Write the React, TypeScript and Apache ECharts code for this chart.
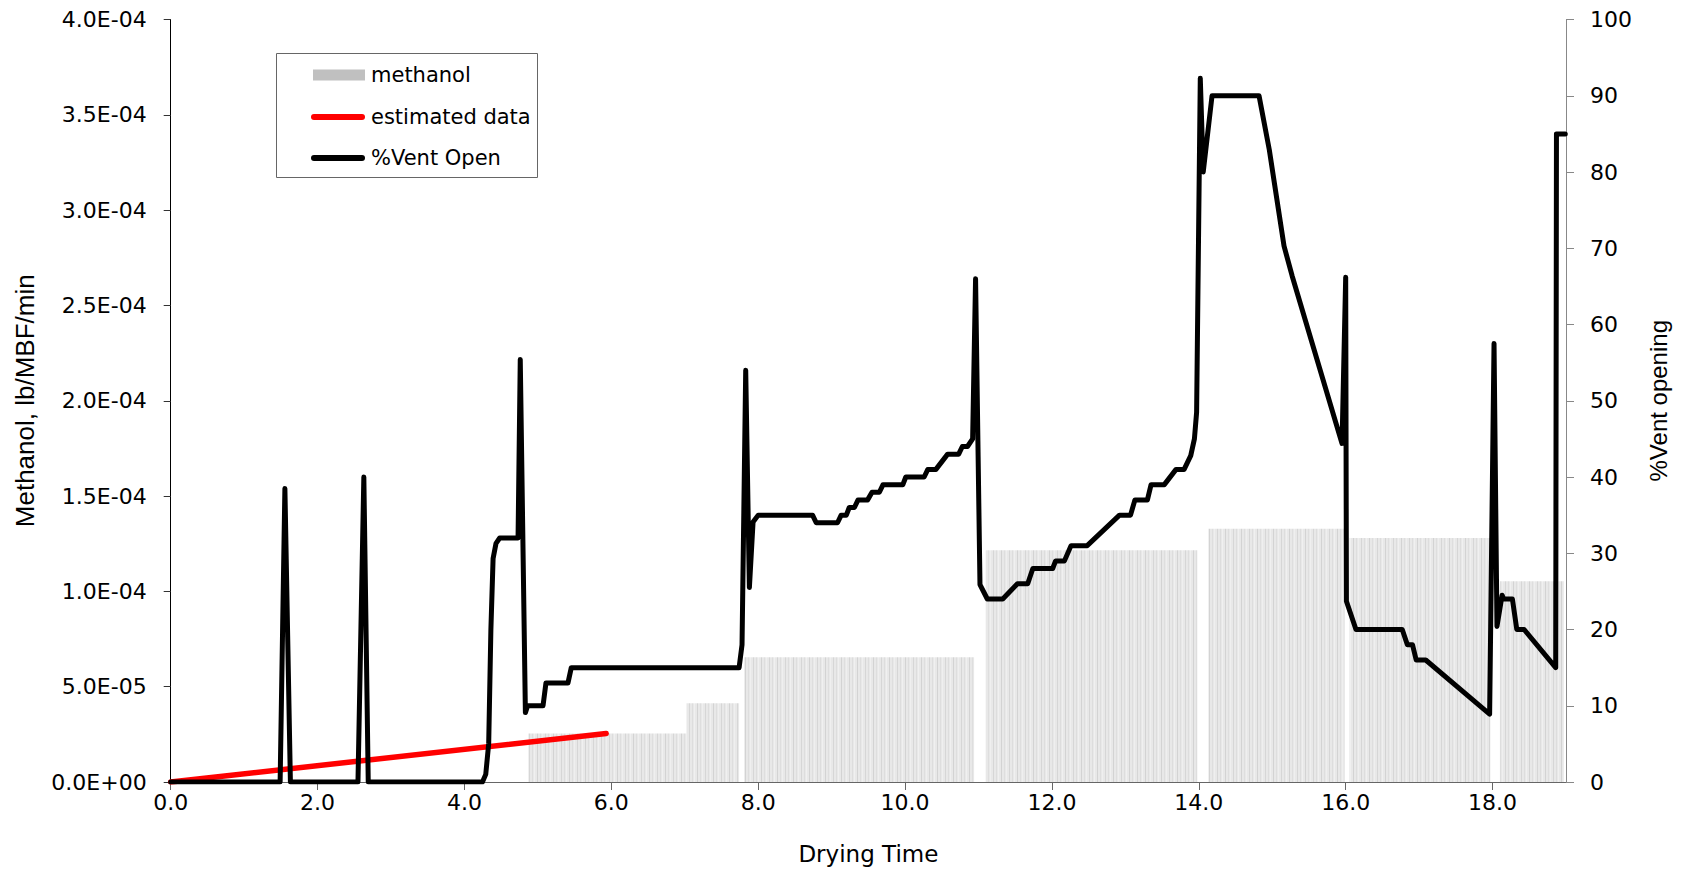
import React, { useEffect, useRef } from "react";
import * as echarts from "echarts";

// %Vent Open (right axis) – drying time [h] and opening [%]
const ventTime = [
  0, 1.49, 1.555, 1.63, 2.55, 2.63, 2.69, 4.245, 4.29, 4.33, 4.36, 4.39, 4.43, 4.48, 4.73, 4.76, 4.83, 4.86,
  5.07, 5.11, 5.41, 5.455, 7.74, 7.78, 7.83, 7.88, 7.93, 8.0, 8.74, 8.79, 9.08, 9.13, 9.2, 9.24, 9.31, 9.36, 9.49,
  9.55, 9.65, 9.7, 9.97, 10.01, 10.26, 10.31, 10.42, 10.58, 10.73, 10.78, 10.85, 10.92, 10.96, 11.02, 11.12,
  11.33, 11.53, 11.67, 11.74, 12.01, 12.05, 12.17, 12.26, 12.48, 12.92, 13.07, 13.13, 13.3, 13.35, 13.53,
  13.69, 13.8, 13.89, 13.94, 13.97, 14.02, 14.06, 14.18, 14.82, 14.96, 15.16, 15.27, 15.95, 16.0, 16.01,
  16.14, 16.77, 16.84, 16.91, 16.96, 17.09, 17.96, 18.02, 18.06, 18.13, 18.15, 18.27, 18.33, 18.43, 18.86,
  18.87, 18.99,
];
const ventOpen = [
  0, 0, 38.5, 0, 0, 40, 0, 0, 1, 5, 20, 29.3, 31.3, 32, 32, 55.4, 9.1, 10,
  10, 13, 13, 15, 15, 18, 54, 25.5, 34.1, 35, 35, 34, 34, 35, 35, 36, 36, 37, 37,
  38, 38, 39, 39, 40, 40, 41, 41, 43, 43, 44, 44, 45, 66, 25.9, 24,
  24, 26, 26, 28, 28, 29, 29, 31, 31, 35, 35, 37, 37, 39, 39,
  41, 41, 42.8, 45, 48.5, 92.3, 80, 90, 90, 82.9, 70.3, 66.4, 44.4, 66.2, 23.7,
  20, 20, 18, 18, 16, 16, 8.9, 57.5, 20.4, 24.5, 24, 24, 20, 20, 15,
  85, 85,
];

// estimated data (left axis)
const estTime = [0, 5.93];
const estValue = [0, 2.54e-5];

// methanol (left axis) – each value holds until the next time
const methanolTime = [4.87, 7.02, 7.74, 7.81, 10.94, 11.1, 13.98, 14.13, 15.99, 16.05, 17.97, 18.1, 18.97];
const methanolValue = [2.54e-5, 4.13e-5, 0, 6.55e-5, 0, 1.216e-4, 0, 1.329e-4, 0, 1.28e-4, 0, 1.053e-4, 0];

const xTicks = [0, 2, 4, 6, 8, 10, 12, 14, 16, 18];

const H_FONT = "'DejaVu Sans', sans-serif";
const V_FONT = "'Liberation Sans', Arial, sans-serif";

function sci(v: number): string {
  if (Math.abs(v) < 1e-12) return "0.0E+00";
  const [m, e] = v.toExponential(1).split("e");
  const n = parseInt(e, 10);
  const a = Math.abs(n);
  return `${m}E${n < 0 ? "-" : "+"}${a < 10 ? "0" + a : a}`;
}

function stripePattern(): any {
  const c = document.createElement("canvas");
  c.width = 16;
  c.height = 8;
  const ctx = c.getContext("2d");
  if (!ctx) return "#e6e6e6";
  ctx.fillStyle = "#e8e8e8";
  ctx.fillRect(0, 0, 16, 8);
  const stripes: [number, string][] = [
    [1, "#d6d6d6"],
    [4, "#dddddd"],
    [6, "#f0f0f0"],
    [9, "#d3d3d3"],
    [12, "#dedede"],
    [14, "#efefef"],
  ];
  stripes.forEach(([x, col]) => {
    ctx.fillStyle = col;
    ctx.fillRect(x, 0, 1, 8);
  });
  return { image: c, repeat: "repeat" };
}

export default function App() {
  const ref = useRef<HTMLDivElement>(null);

  useEffect(() => {
    if (!ref.current) return;
    const chart = echarts.init(ref.current, undefined, { renderer: "svg" });

    const legendText = (text: string, y: number) => ({
      type: "text",
      x: 371,
      y,
      z: 101,
      style: {
        text,
        fontFamily: H_FONT,
        fontSize: 21,
        fill: "#000",
        align: "left",
        verticalAlign: "middle",
      },
    });

    const option: any = {
      animation: false,
      backgroundColor: "#ffffff",
      grid: { left: 170.7, right: 124, top: 19.5, bottom: 85.5 },
      xAxis: {
        type: "value",
        min: 0,
        max: 19,
        interval: 2,
        name: "Drying Time",
        nameLocation: "middle",
        nameGap: 60,
        nameTextStyle: { fontFamily: H_FONT, fontSize: 23, color: "#000" },
        axisLine: { onZero: false, lineStyle: { color: "#666", width: 1 } },
        axisTick: { show: true, inside: false, length: 8, customValues: xTicks, lineStyle: { color: "#666" } },
        axisLabel: {
          customValues: xTicks,
          formatter: (v: number) => v.toFixed(1),
          fontFamily: H_FONT,
          fontSize: 22,
          color: "#000",
          margin: 9,
        },
        splitLine: { show: false },
      },
      yAxis: [
        {
          type: "value",
          position: "left",
          min: 0,
          max: 0.0004,
          interval: 0.00005,
          name: "Methanol, lb/MBF/min",
          nameLocation: "middle",
          nameGap: 133,
          nameTextStyle: { fontFamily: V_FONT, fontSize: 26, color: "#000" },
          axisLine: { show: true, onZero: false, lineStyle: { color: "#000", width: 1 } },
          axisTick: { show: true, inside: false, length: 7, lineStyle: { color: "#333" } },
          axisLabel: { formatter: sci, fontFamily: H_FONT, fontSize: 22, color: "#000", margin: 24 },
          splitLine: { show: false },
        },
        {
          type: "value",
          position: "right",
          min: 0,
          max: 100,
          interval: 10,
          name: "%Vent opening",
          nameLocation: "middle",
          nameGap: 80,
          nameTextStyle: { fontFamily: V_FONT, fontSize: 24, color: "#000" },
          axisLine: { show: true, onZero: false, lineStyle: { color: "#888", width: 1 } },
          axisTick: { show: true, inside: false, length: 8, lineStyle: { color: "#888" } },
          axisLabel: { fontFamily: H_FONT, fontSize: 22, color: "#000", margin: 24 },
          splitLine: { show: false },
        },
      ],
      series: [
        {
          name: "methanol",
          type: "line",
          yAxisIndex: 0,
          step: "end",
          symbol: "none",
          data: methanolTime.map((t, i) => [t, methanolValue[i]]),
          lineStyle: { width: 0, opacity: 0 },
          areaStyle: { color: stripePattern(), opacity: 1 },
          z: 1,
          silent: true,
        },
        {
          name: "estimated data",
          type: "line",
          yAxisIndex: 0,
          symbol: "none",
          data: estTime.map((t, i) => [t, estValue[i]]),
          lineStyle: { color: "#ff0000", width: 5.5, cap: "round" },
          z: 2,
          silent: true,
        },
        {
          name: "%Vent Open",
          type: "line",
          yAxisIndex: 1,
          symbol: "none",
          data: ventTime.map((t, i) => [t, ventOpen[i]]),
          lineStyle: { color: "#000000", width: 5, cap: "round", join: "round" },
          z: 3,
          silent: true,
        },
      ],
      graphic: [
        {
          type: "rect",
          z: 100,
          shape: { x: 276.5, y: 53.5, width: 261, height: 124 },
          style: { fill: "#ffffff", stroke: "#666666", lineWidth: 1 },
        },
        {
          type: "rect",
          z: 101,
          shape: { x: 313, y: 69.5, width: 52, height: 11 },
          style: { fill: "#c0c0c0" },
        },
        {
          type: "line",
          z: 101,
          shape: { x1: 314, y1: 117, x2: 362, y2: 117 },
          style: { stroke: "#ff0000", lineWidth: 6, lineCap: "round" },
        },
        {
          type: "line",
          z: 101,
          shape: { x1: 314, y1: 158, x2: 362, y2: 158 },
          style: { stroke: "#000000", lineWidth: 6, lineCap: "round" },
        },
        legendText("methanol", 75),
        legendText("estimated data", 117),
        legendText("%Vent Open", 158),
      ],
    };

    chart.setOption(option);
    return () => chart.dispose();
  }, []);

  return (
    <div
      ref={ref}
      style={{ position: "fixed", left: 0, top: 0, width: 1690, height: 870, background: "#fff" }}
    />
  );
}
